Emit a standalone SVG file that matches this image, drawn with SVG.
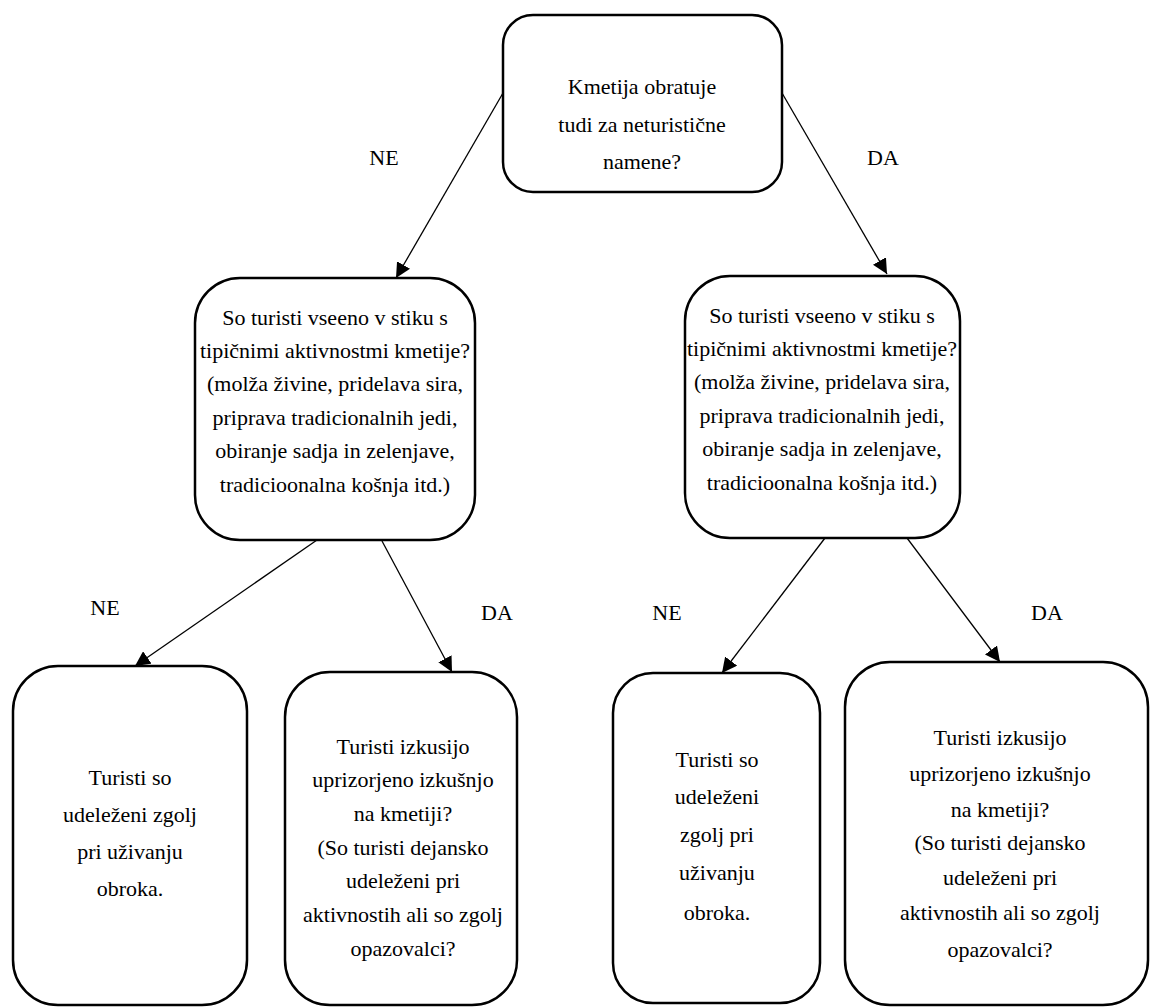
<svg xmlns="http://www.w3.org/2000/svg" width="1150" height="1008" viewBox="0 0 1150 1008" font-family="Liberation Serif, Tinos, Times New Roman, DejaVu Serif, serif">
<defs>
<marker id="ah" viewBox="0 0 10 10" refX="10" refY="5" markerWidth="15" markerHeight="15" markerUnits="userSpaceOnUse" orient="auto">
<path d="M0,0 L10,5 L0,10 z" fill="#000"/>
</marker>
<style>
.box{fill:#fff;stroke:#000;stroke-width:2.5}
.t{font-size:22px;fill:#000;text-anchor:middle}
.c{stroke:#000;stroke-width:1.3;fill:none;marker-end:url(#ah)}
</style>
</defs>
<rect width="1150" height="1008" fill="#fff"/>
<g id="connectors">
<line class="c" x1="503" y1="93" x2="396" y2="278"/>
<line class="c" x1="782" y1="93" x2="887" y2="274"/>
<line class="c" x1="317" y1="540" x2="135" y2="666"/>
<line class="c" x1="382" y1="541" x2="452" y2="672"/>
<line class="c" x1="825" y1="538" x2="722" y2="673"/>
<line class="c" x1="907" y1="538" x2="1000" y2="662"/>
</g>
<g id="labels">
<text class="t" x="384" y="165">NE</text>
<text class="t" x="883" y="165">DA</text>
<text class="t" x="105" y="615">NE</text>
<text class="t" x="497" y="620">DA</text>
<text class="t" x="667" y="620">NE</text>
<text class="t" x="1047" y="620">DA</text>
</g>
<g id="n-root">
<rect class="box" x="503" y="15" width="279" height="177" rx="30"/>
<text class="t" x="642" y="94">Kmetija obratuje</text>
<text class="t" x="642" y="132">tudi za neturistične</text>
<text class="t" x="642" y="169">namene?</text>
</g>
<g id="n-left">
<rect class="box" x="195" y="278" width="280" height="262" rx="45"/>
<text class="t" x="335" y="325">So turisti vseeno v stiku s</text>
<text class="t" x="335" y="358">tipičnimi aktivnostmi kmetije?</text>
<text class="t" x="335" y="391">(molža živine, pridelava sira,</text>
<text class="t" x="335" y="425">priprava tradicionalnih jedi,</text>
<text class="t" x="335" y="458">obiranje sadja in zelenjave,</text>
<text class="t" x="335" y="492">tradicioonalna košnja itd.)</text>
</g>
<g id="n-right">
<rect class="box" x="685" y="276" width="275" height="262" rx="45"/>
<text class="t" x="822" y="323">So turisti vseeno v stiku s</text>
<text class="t" x="822" y="356">tipičnimi aktivnostmi kmetije?</text>
<text class="t" x="822" y="389">(molža živine, pridelava sira,</text>
<text class="t" x="822" y="423">priprava tradicionalnih jedi,</text>
<text class="t" x="822" y="456">obiranje sadja in zelenjave,</text>
<text class="t" x="822" y="490">tradicioonalna košnja itd.)</text>
</g>
<g id="n-leaf1">
<rect class="box" x="13" y="666" width="234" height="339" rx="45"/>
<text class="t" x="130" y="785">Turisti so</text>
<text class="t" x="130" y="822">udeleženi zgolj</text>
<text class="t" x="130" y="859">pri uživanju</text>
<text class="t" x="130" y="896">obroka.</text>
</g>
<g id="n-leaf2">
<rect class="box" x="285" y="672" width="232" height="333" rx="45"/>
<text class="t" x="403" y="754">Turisti izkusijo</text>
<text class="t" x="403" y="787">uprizorjeno izkušnjo</text>
<text class="t" x="403" y="821">na kmetiji?</text>
<text class="t" x="403" y="855">(So turisti dejansko</text>
<text class="t" x="403" y="888">udeleženi pri</text>
<text class="t" x="403" y="922">aktivnostih ali so zgolj</text>
<text class="t" x="403" y="956">opazovalci?</text>
</g>
<g id="n-leaf3">
<rect class="box" x="613" y="673" width="207" height="330" rx="40"/>
<text class="t" x="717" y="767">Turisti so</text>
<text class="t" x="717" y="804">udeleženi</text>
<text class="t" x="717" y="842">zgolj pri</text>
<text class="t" x="717" y="880">uživanju</text>
<text class="t" x="717" y="920">obroka.</text>
</g>
<g id="n-leaf4">
<rect class="box" x="845" y="662" width="303" height="343" rx="45"/>
<text class="t" x="1000" y="745">Turisti izkusijo</text>
<text class="t" x="1000" y="781">uprizorjeno izkušnjo</text>
<text class="t" x="1000" y="817">na kmetiji?</text>
<text class="t" x="1000" y="850">(So turisti dejansko</text>
<text class="t" x="1000" y="885">udeleženi pri</text>
<text class="t" x="1000" y="920">aktivnostih ali so zgolj</text>
<text class="t" x="1000" y="957">opazovalci?</text>
</g>
</svg>
